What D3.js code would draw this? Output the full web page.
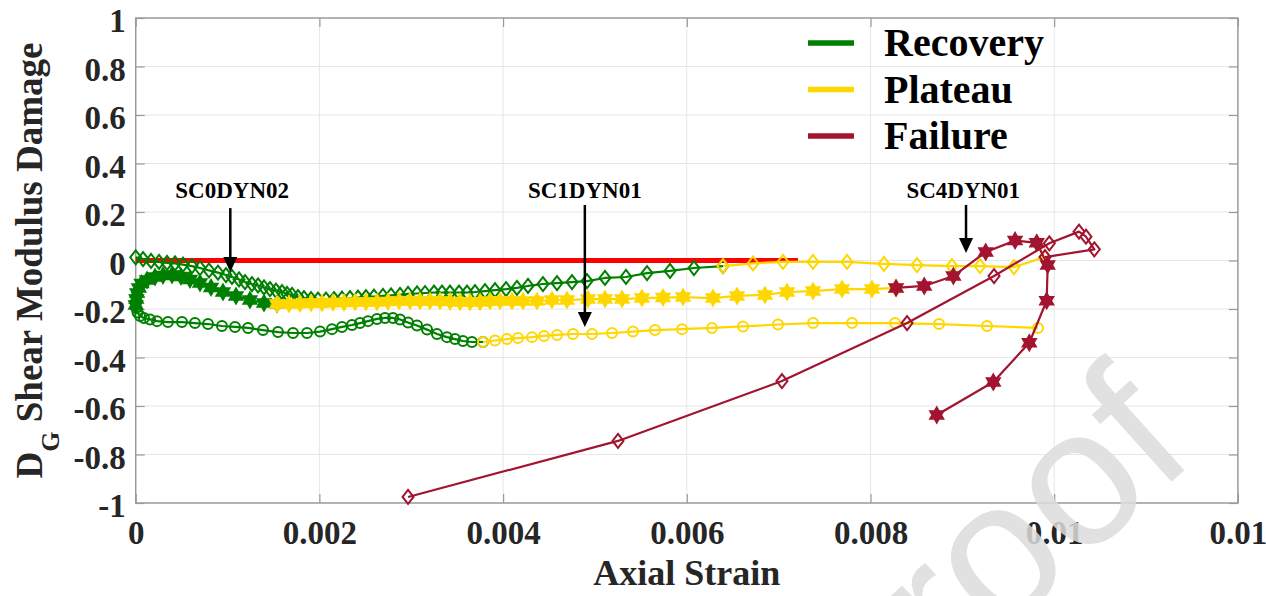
<!DOCTYPE html>
<html>
<head>
<meta charset="utf-8">
<script src="https://cdnjs.cloudflare.com/ajax/libs/d3/7.8.5/d3.min.js"></script>
<style>
    body { margin: 0; background: #fff; }
    svg text { font-family: "Liberation Serif", "Times New Roman", serif; font-weight: bold; }
</style>
</head>
<body>
<div id="chart"></div>
<script>
// tick values and the labels MATLAB printed for them
const X_TICKS = [0, 0.002, 0.004, 0.006, 0.008, 0.01, 0.012];
const X_TICK_LABELS = ["0", "0.002", "0.004", "0.006", "0.008", "0.01", "0.01"];
const Y_TICKS = [-1, -0.8, -0.6, -0.4, -0.2, 0, 0.2, 0.4, 0.6, 0.8, 1];
const Y_TICK_LABELS = ["-1", "-0.8", "-0.6", "-0.4", "-0.2", "0", "0.2", "0.4", "0.6", "0.8", "1"];

const PHASES = ["Recovery", "Plateau", "Failure"];

// [axial strain, D_G]
const recoveryDiamond = [
    [0.0000, 0.013], [0.000080, 0.006], [0.000167, -0.002], [0.000254, -0.006], [0.000341, -0.010],
    [0.000428, -0.012], [0.000515, -0.017], [0.000613, -0.023], [0.000700, -0.031], [0.000798, -0.041],
    [0.000896, -0.050], [0.000983, -0.060], [0.001048, -0.068], [0.001125, -0.078], [0.001190, -0.089],
    [0.001266, -0.097], [0.001332, -0.103], [0.001397, -0.111], [0.001462, -0.118], [0.001527, -0.124],
    [0.001593, -0.130], [0.001647, -0.138], [0.001702, -0.142], [0.001767, -0.151], [0.001832, -0.155],
    [0.001909, -0.159], [0.001985, -0.161], [0.002072, -0.161], [0.002159, -0.159], [0.002246, -0.157],
    [0.002333, -0.155], [0.002420, -0.153], [0.002507, -0.151], [0.002594, -0.149], [0.002692, -0.146],
    [0.002780, -0.144], [0.002878, -0.142], [0.002965, -0.138], [0.003063, -0.136], [0.003150, -0.134],
    [0.003248, -0.132], [0.003335, -0.132], [0.003422, -0.132], [0.003520, -0.132], [0.003607, -0.132],
    [0.003694, -0.130], [0.003803, -0.126], [0.003912, -0.122], [0.004032, -0.118], [0.004151, -0.113],
    [0.004271, -0.105], [0.004434, -0.097], [0.004587, -0.093], [0.004750, -0.089], [0.004914, -0.085],
    [0.005109, -0.072], [0.005338, -0.068], [0.005567, -0.052], [0.005817, -0.043], [0.006078, -0.031],
    [0.006394, -0.023]
];
const plateauDiamond = [
    [0.006394, -0.023], [0.006721, -0.012], [0.007047, -0.006], [0.007374, -0.006], [0.007744, -0.006],
    [0.008147, -0.014], [0.008506, -0.019], [0.008887, -0.023], [0.009192, -0.023], [0.009562, -0.027],
    [0.009900, 0.014]
];
const failureDiamond = [
    [0.009900, 0.014], [0.010437, 0.046], [0.010346, 0.098], [0.010270, 0.119], [0.009947, 0.071],
    [0.009345, -0.064], [0.008398, -0.258], [0.007036, -0.497], [0.005251, -0.744], [0.002965, -0.975]
];

const recoveryStar = [
    [0.0000, -0.184], [0.000007, -0.159], [0.000016, -0.134], [0.000034, -0.113], [0.000063, -0.095],
    [0.000123, -0.080], [0.000210, -0.068], [0.000297, -0.062], [0.000395, -0.060], [0.000493, -0.066],
    [0.000591, -0.078], [0.000700, -0.093], [0.000820, -0.111], [0.000950, -0.130], [0.001092, -0.146],
    [0.001244, -0.163], [0.001397, -0.175], [0.001538, -0.179]
];
const plateauStar = [
    [0.001538, -0.179], [0.001669, -0.179], [0.001789, -0.177], [0.001909, -0.175], [0.002028, -0.175],
    [0.002148, -0.173], [0.002268, -0.173], [0.002388, -0.171], [0.002507, -0.171], [0.002627, -0.171],
    [0.002747, -0.169], [0.002867, -0.167], [0.002986, -0.167], [0.003095, -0.167], [0.003204, -0.167],
    [0.003313, -0.167], [0.003422, -0.169], [0.003531, -0.171], [0.003640, -0.171], [0.003749, -0.171],
    [0.003857, -0.167], [0.003966, -0.167], [0.004097, -0.167], [0.004217, -0.167], [0.004369, -0.167],
    [0.004532, -0.163], [0.004696, -0.163], [0.004924, -0.159], [0.005109, -0.159], [0.005295, -0.159],
    [0.005512, -0.155], [0.005741, -0.153], [0.005959, -0.151], [0.006285, -0.155], [0.006547, -0.146],
    [0.006851, -0.142], [0.007091, -0.130], [0.007374, -0.126], [0.007690, -0.118], [0.008016, -0.118],
    [0.008278, -0.113]
];
const failureStar = [
    [0.008278, -0.113], [0.008585, -0.105], [0.008902, -0.064], [0.009254, 0.035], [0.009574, 0.082],
    [0.009810, 0.073], [0.009929, -0.019], [0.009918, -0.166], [0.009729, -0.339], [0.009337, -0.501],
    [0.008721, -0.637]
];

const recoveryCircle = [
    [0.0000, -0.175], [0.000005, -0.196], [0.000020, -0.214], [0.000047, -0.229], [0.000090, -0.237],
    [0.000156, -0.243], [0.000232, -0.250], [0.000351, -0.254], [0.000504, -0.254], [0.000645, -0.258],
    [0.000787, -0.262], [0.000939, -0.270], [0.001081, -0.274], [0.001223, -0.278], [0.001386, -0.287],
    [0.001549, -0.295], [0.001713, -0.299], [0.001865, -0.299], [0.002007, -0.293], [0.002137, -0.283],
    [0.002246, -0.274], [0.002355, -0.266], [0.002442, -0.258], [0.002529, -0.250], [0.002627, -0.241],
    [0.002714, -0.237], [0.002801, -0.237], [0.002878, -0.243], [0.002965, -0.256], [0.003063, -0.268],
    [0.003172, -0.285], [0.003280, -0.303], [0.003389, -0.316], [0.003476, -0.324], [0.003563, -0.332],
    [0.003661, -0.336], [0.003781, -0.336]
];
const plateauCircle = [
    [0.003781, -0.336], [0.003912, -0.330], [0.004042, -0.324], [0.004162, -0.320], [0.004315, -0.316],
    [0.004445, -0.311], [0.004587, -0.307], [0.004761, -0.303], [0.004968, -0.303], [0.005186, -0.299],
    [0.005414, -0.293], [0.005654, -0.287], [0.005948, -0.283], [0.006274, -0.278], [0.006612, -0.272],
    [0.006993, -0.264], [0.007374, -0.258], [0.007799, -0.258], [0.008267, -0.258], [0.008746, -0.262],
    [0.009269, -0.270], [0.009824, -0.278]
];

// undamaged reference line D_G = 0
const zeroLine = [[0, 0], [0.00721, 0]];

// test labels and the arrows below them
const TESTS = ["SC0DYN02", "SC1DYN01", "SC4DYN01"];
const TEST_LABEL_X = [0.00105, 0.00489, 0.00901];
const TEST_LABEL_Y = 0.257;
const ARROW_X = [0.00103, 0.00489, 0.00904];
const ARROW_TOP = [0.216, 0.229, 0.229];
const ARROW_TIP = [-0.047, -0.274, 0.031];

const COLORS = { Recovery: "#008000", Plateau: "#ffd700", Failure: "#a2142f" };

const SERIES = [
    { data: recoveryDiamond, phase: "Recovery", marker: "diamond" },
    { data: recoveryStar, phase: "Recovery", marker: "star" },
    { data: recoveryCircle, phase: "Recovery", marker: "circle" },
    { data: plateauDiamond, phase: "Plateau", marker: "diamond" },
    { data: plateauStar, phase: "Plateau", marker: "star" },
    { data: plateauCircle, phase: "Plateau", marker: "circle" },
    { data: failureDiamond, phase: "Failure", marker: "diamond" },
    { data: failureStar, phase: "Failure", marker: "star" }
];

const WIDTH = 1266, HEIGHT = 596;
const PLOT = { left: 135.7, right: 1237.9, top: 18, bottom: 503 };

const svg = d3.select("#chart").append("svg")
    .attr("width", WIDTH)
    .attr("height", HEIGHT)
    .style("display", "block");

svg.append("rect").attr("width", WIDTH).attr("height", HEIGHT).attr("fill", "#fff");

const x = d3.scaleLinear().domain([0, 0.012]).range([PLOT.left, PLOT.right]);
const y = d3.scaleLinear().domain([-1, 1]).range([PLOT.bottom, PLOT.top]);

// grid
const grid = svg.append("g").attr("stroke", "#e6e6e6").attr("stroke-width", 1);
grid.selectAll(".gx").data(X_TICKS.slice(1, -1)).enter().append("line")
    .attr("x1", d => x(d)).attr("x2", d => x(d))
    .attr("y1", y(1)).attr("y2", y(-1));
grid.selectAll(".gy").data(Y_TICKS.slice(1, -1)).enter().append("line")
    .attr("y1", d => y(d)).attr("y2", d => y(d))
    .attr("x1", x(0)).attr("x2", x(0.012));

// axes, MATLAB style: inward ticks on all four sides
function styleAxis(g) {
    g.select(".domain").remove();
    g.selectAll(".tick line").attr("stroke", "#9a9a9a").attr("stroke-width", 1.2);
    g.selectAll(".tick text")
        .attr("fill", "#262626")
        .style("font-size", "33px");
}

svg.append("g")
    .attr("transform", "translate(0," + y(-1) + ")")
    .call(d3.axisBottom(x).tickValues(X_TICKS).tickFormat((d, i) => X_TICK_LABELS[i]).tickSize(-9))
    .call(styleAxis)
    .call(g => g.selectAll(".tick text").attr("y", 41).attr("dy", 0));

svg.append("g")
    .attr("transform", "translate(" + x(0) + ",0)")
    .call(d3.axisLeft(y).tickValues(Y_TICKS).tickFormat((d, i) => Y_TICK_LABELS[i]).tickSize(-9).tickPadding(10))
    .call(styleAxis)
    .call(g => g.selectAll(".tick text").attr("dy", "0.42em"));

svg.append("g")
    .attr("transform", "translate(0," + y(1) + ")")
    .call(d3.axisTop(x).tickValues(X_TICKS).tickFormat("").tickSize(-9))
    .call(styleAxis);

svg.append("g")
    .attr("transform", "translate(" + x(0.012) + ",0)")
    .call(d3.axisRight(y).tickValues(Y_TICKS).tickFormat("").tickSize(-9))
    .call(styleAxis);

svg.append("rect")
    .attr("x", x(0)).attr("y", y(1))
    .attr("width", x(0.012) - x(0)).attr("height", y(-1) - y(1))
    .attr("fill", "none").attr("stroke", "#9a9a9a").attr("stroke-width", 1.5);

const line = d3.line().x(d => x(d[0])).y(d => y(d[1]));

// red zero line sits behind the data
svg.append("path")
    .datum(zeroLine)
    .attr("d", line)
    .attr("fill", "none")
    .attr("stroke", "#ff0000")
    .attr("stroke-width", 5);

function hexagram(r) {
    const p = d3.path();
    for (let i = 0; i < 12; i++) {
        const a = Math.PI / 6 * i - Math.PI / 2;
        const rr = i % 2 === 0 ? r : r / Math.sqrt(3);
        if (i === 0) p.moveTo(rr * Math.cos(a), rr * Math.sin(a));
        else p.lineTo(rr * Math.cos(a), rr * Math.sin(a));
    }
    p.closePath();
    return p.toString();
}
const MARKER_PATHS = {
    diamond: "M0,-7L5.5,0L0,7L-5.5,0Z",
    star: hexagram(7.5),
    circle: d3.symbol(d3.symbolCircle, Math.PI * 25)()
};

SERIES.forEach(s => {
    const color = COLORS[s.phase];
    const g = svg.append("g");
    g.append("path")
        .datum(s.data)
        .attr("d", line)
        .attr("fill", "none")
        .attr("stroke", color)
        .attr("stroke-width", 2.2)
        .attr("stroke-linejoin", "round");
    g.selectAll("path.m")
        .data(s.data)
        .enter()
        .append("path")
        .attr("class", "m")
        .attr("d", MARKER_PATHS[s.marker])
        .attr("transform", d => "translate(" + x(d[0]) + "," + y(d[1]) + ")")
        .attr("fill", s.marker === "star" ? color : "none")
        .attr("stroke", color)
        .attr("stroke-width", 2);
});

// test annotations
const notes = svg.append("g");
TESTS.forEach((name, i) => {
    notes.append("text")
        .attr("x", x(TEST_LABEL_X[i]))
        .attr("y", y(TEST_LABEL_Y))
        .attr("text-anchor", "middle")
        .style("font-size", "23px")
        .attr("fill", "#000")
        .text(name);
    const xa = x(ARROW_X[i]), y0 = y(ARROW_TOP[i]), y1 = y(ARROW_TIP[i]);
    notes.append("line")
        .attr("x1", xa).attr("x2", xa)
        .attr("y1", y0).attr("y2", y1 - 12)
        .attr("stroke", "#000").attr("stroke-width", 2.5);
    notes.append("path")
        .attr("d", `M${xa - 7},${y1 - 15}L${xa + 7},${y1 - 15}L${xa},${y1}Z`)
        .attr("fill", "#000");
});

// legend
const legend = svg.append("g");
PHASES.forEach((p, i) => {
    const ly = 43 + i * 46.5;
    legend.append("line")
        .attr("x1", 808).attr("x2", 854)
        .attr("y1", ly).attr("y2", ly)
        .attr("stroke", COLORS[p]).attr("stroke-width", 5.5);
    legend.append("text")
        .attr("x", 884).attr("y", ly + 13)
        .style("font-size", "40px")
        .attr("fill", "#000")
        .text(p);
});

// axis titles
svg.append("text")
    .attr("x", (PLOT.left + PLOT.right) / 2)
    .attr("y", 585)
    .attr("text-anchor", "middle")
    .attr("fill", "#262626")
    .style("font-size", "36px")
    .text("Axial Strain");

const yl = svg.append("text")
    .attr("transform", "translate(42," + ((PLOT.top + PLOT.bottom) / 2) + ") rotate(-90)")
    .attr("text-anchor", "middle")
    .attr("fill", "#262626")
    .style("font-size", "37px");
yl.append("tspan").text("D");
yl.append("tspan").attr("dy", 17).style("font-size", "26px").text("G");
yl.append("tspan").attr("dy", -17).text(" Shear Modulus Damage");

// journal watermark, only its tail shows inside the figure
svg.append("text")
    .attr("transform", "translate(1199,457) rotate(-42)")
    .attr("text-anchor", "end")
    .style("font-family", "'Liberation Sans', Arial, sans-serif")
    .style("font-weight", "normal")
    .style("font-size", "195px")
    .attr("fill", "#dcdcdc")
    .attr("fill-opacity", 0.85)
    .text("Journal Pre-proof");
</script>
</body>
</html>
